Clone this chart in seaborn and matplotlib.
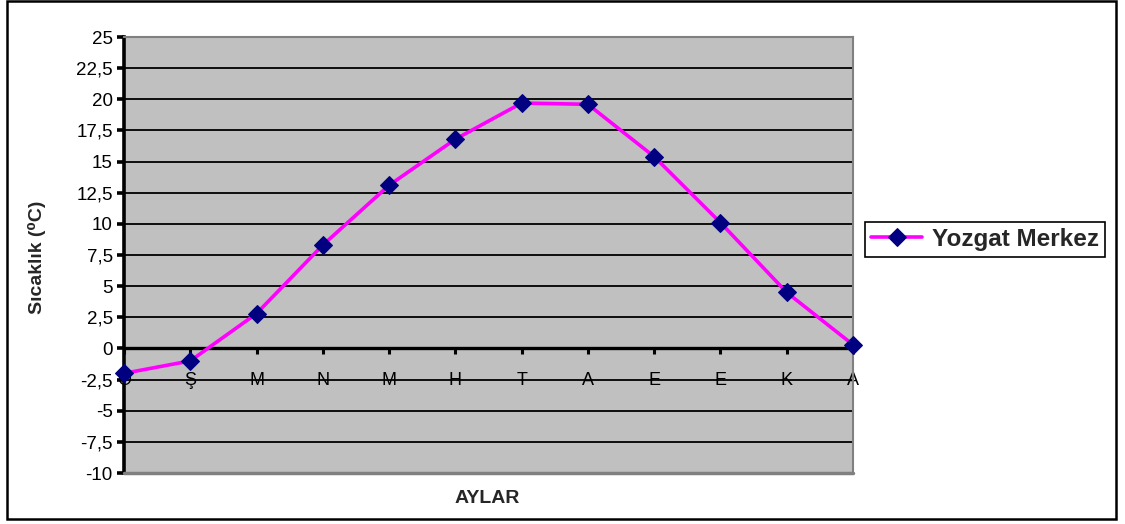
import numpy as np
import pandas as pd
import matplotlib
matplotlib.use('Agg')
import matplotlib.pyplot as plt
import matplotlib.patches as patches
from matplotlib.ticker import FixedLocator, FuncFormatter
import seaborn as sns

# ---- data ----
months = ['O', 'Ş', 'M', 'N', 'M', 'H', 'T', 'A', 'E', 'E', 'K', 'A']
temps = [-2.0, -1.0, 2.8, 8.3, 13.1, 16.8, 19.7, 19.6, 15.4, 10.1, 4.5, 0.3]
y_ticks = [-10, -7.5, -5, -2.5, 0, 2.5, 5, 7.5, 10, 12.5, 15, 17.5, 20, 22.5, 25]
series_name = 'Yozgat Merkez'

df = pd.DataFrame({'idx': np.arange(len(months)), 'temp': temps})

sns.set_style("white")
plt.rcParams['font.family'] = ['Liberation Sans', 'DejaVu Sans']

fig = plt.figure(figsize=(11.25, 5.24), dpi=100)
ax = fig.add_axes([0.1102, 0.0973, 0.648, 0.832])
ax.set_facecolor('#C0C0C0')

# horizontal gridlines (black)
for v in y_ticks:
    if v not in (0, 25, -10):
        ax.axhline(v, color='black', lw=1.3, zorder=1)

sns.lineplot(data=df, x='idx', y='temp', ax=ax, color='#FF00FF', lw=2.6,
             marker='D', markersize=9.5, markerfacecolor='#000080',
             markeredgecolor='#000080', sort=False, label=series_name,
             clip_on=False, zorder=5)

ax.set_xlim(0, len(months) - 1)
ax.set_ylim(-10, 25)

# spines
ax.spines['bottom'].set_position(('data', 0))
ax.spines['bottom'].set_color('black')
ax.spines['bottom'].set_linewidth(2.4)
ax.spines['left'].set_color('black')
ax.spines['left'].set_linewidth(2.6)
for s in ['top', 'right']:
    ax.spines[s].set_color('#808080')
    ax.spines[s].set_linewidth(1.5)
# gray bottom border of plot area
ax.axhline(-10, color='#808080', lw=2.5, zorder=3, clip_on=False)

ax.xaxis.set_major_locator(FixedLocator(np.arange(len(months))))
ax.set_xticklabels(months, fontsize=13)
ax.tick_params(axis='x', direction='out', length=4, width=2.2, pad=13,
               colors='black', bottom=True)

ax.yaxis.set_major_locator(FixedLocator(y_ticks))
ax.yaxis.set_major_formatter(FuncFormatter(lambda v, p: f'{v:g}'.replace('.', ',')))
ax.tick_params(axis='y', direction='out', length=5, width=2.6, pad=3,
               labelsize=13.5, colors='black', left=True)

ax.set_xlabel('')
ax.set_ylabel('')
fig.text(0.0329, 0.5086, 'Sıcaklık (⁰C)', rotation=90, ha='center', va='center',
         fontsize=14, fontweight='bold')
fig.text(0.4329, 0.0496, 'AYLAR', ha='center', va='center',
         fontsize=14, fontweight='bold')

# legend
ax.get_legend().remove()
h, l = ax.get_legend_handles_labels()
leg = fig.legend(h, l, loc='upper left', bbox_to_anchor=(0.7689, 0.5765),
                 fancybox=False, framealpha=1, edgecolor='black',
                 prop={'weight': 'bold', 'size': 17.5}, handlelength=2.1,
                 handletextpad=0.4, borderpad=0.25, borderaxespad=0)
leg.get_frame().set_linewidth(1.2)

# outer chart border
fig.patches.append(patches.Rectangle((0.0062, 0.0095), 0.9858, 0.988,
                                     transform=fig.transFigure, fill=False,
                                     edgecolor='black', lw=1.8, zorder=10))

fig.savefig('out.png', dpi=100, facecolor='white')
